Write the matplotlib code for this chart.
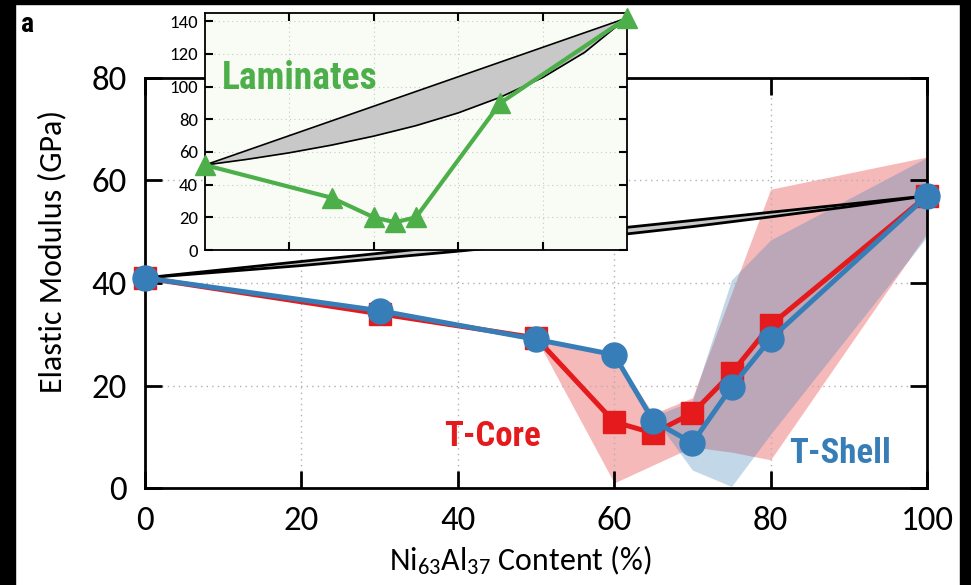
import matplotlib
matplotlib.use('Agg')
import matplotlib.pyplot as plt
from matplotlib.patches import Rectangle

plt.rcParams['font.family'] = ['Carlito', 'Open Sans', 'DejaVu Sans']
plt.rcParams['mathtext.default'] = 'regular'

# main panel data
content = [0, 30, 50, 60, 65, 70, 75, 80, 100]
core = [41, 34, 29.3, 12.9, 10.7, 14.6, 22.4, 31.8, 57]
shell = [41, 34.6, 29, 26, 13.1, 8.8, 19.7, 29.1, 57]

core_x = [50, 60, 65, 70, 75, 80, 100]
core_hi = [29.3, 26, 14.5, 17.6, 38, 58.3, 64.6]
core_lo = [29.3, 1.0, 4.5, 8.0, 7.0, 5.5, 49.7]

shell_x = [65, 70, 75, 80, 100]
shell_hi = [14, 17, 40.6, 48.4, 64.5]
shell_lo = [14, 3.5, 0.3, 10.5, 49]

# bounds band in main panel
bx = [0, 10, 20, 30, 40, 50, 60, 70, 80, 90, 100]
b_up = [41, 42.6, 44.2, 45.8, 47.4, 49, 50.6, 52.2, 53.8, 55.4, 57]
b_lo = [41, 42.2, 43.4, 44.8, 46.2, 47.7, 49.3, 51.0, 52.9, 54.9, 57]

# inset (laminates)
lam_x = [0, 30, 40, 45, 50, 70, 100]
lam_y = [52, 32, 20, 17, 20, 90, 142]
lam_up = [52, 61, 70, 79, 88, 97, 106, 115, 124, 133, 142]
lam_lo = [52, 55.5, 59.5, 64.2, 69.7, 76.1, 83.9, 93.5, 105.5, 121.0, 142]

red = '#e41a1c'
blue = '#377eb8'
green = '#4daf4a'
txt_font = ['Roboto Condensed', 'Fira Sans Condensed', 'PT Sans Narrow',
            'Open Sans Condensed', 'DejaVu Sans']

fig = plt.figure(figsize=(9.71, 5.85), dpi=100)
ax = fig.add_axes([0.1493, 0.1658, 0.8054, 0.7009])

ax.fill_between(core_x, core_lo, core_hi, color=red, alpha=0.3, lw=0, zorder=1)
ax.fill_between(shell_x, shell_lo, shell_hi, color=blue, alpha=0.3, lw=0, zorder=1)

ax.fill_between(bx, b_lo, b_up, color='#c8c8c8', lw=0, zorder=2)
ax.plot(bx, b_up, color='k', lw=2, zorder=2)
ax.plot(bx, b_lo, color='k', lw=2, zorder=2)

ax.plot(content, core, '-s', color=red, lw=3.6, ms=16, zorder=3, clip_on=False)
ax.plot(content, shell, '-o', color=blue, lw=3.6, ms=18, zorder=4, clip_on=False)

ax.set_xlim(0, 100)
ax.set_ylim(0, 80)
ax.set_xticks([0, 20, 40, 60, 80, 100])
ax.set_yticks([0, 20, 40, 60, 80])
ax.grid(True, ls=(0, (1, 3)), color='#b0b0b0', lw=1)
ax.tick_params(direction='in', length=12, width=2, labelsize=25, pad=13,
               top=True, right=True)
for s in ax.spines.values():
    s.set_linewidth(2)
ax.set_ylabel('Elastic Modulus (GPa)', fontsize=23)
ax.set_xlabel('Ni$_{63}$Al$_{37}$ Content (%)', fontsize=23)
ax.yaxis.set_label_coords(-0.101, 0.576)
ax.xaxis.set_label_coords(0.4795, -0.135)

ax.text(44.4, 10.1, 'T-Core', color=red, fontsize=25, fontweight='bold',
        family=txt_font, ha='center', va='center', zorder=5)
ax.text(88.9, 6.8, 'T-Shell', color=blue, fontsize=25, fontweight='bold',
        family=txt_font, ha='center', va='center', zorder=5)

# inset
ins = fig.add_axes([0.2111, 0.5726, 0.4346, 0.4051])
ins.set_facecolor('#f8fcf5')
ins.fill_between(bx, lam_lo, lam_up, color='#c8c8c8', lw=0)
ins.plot(bx, lam_up, color='k', lw=1.2)
ins.plot(bx, lam_lo, color='k', lw=1.2)
ins.plot(lam_x, lam_y, '-^', color=green, lw=3, ms=14, clip_on=False, zorder=5)
ins.set_xlim(0, 100)
ins.set_ylim(0, 145)
ins.set_xticks([20, 40, 60, 80])
ins.set_yticks(range(0, 141, 20))
ins.set_xticklabels([])
ins.grid(True, ls=(0, (1, 3)), color='#c8c8c8', lw=0.8)
ins.tick_params(direction='in', length=6, width=1.5, labelsize=13.5, pad=5,
                top=True, right=True)
for s in ins.spines.values():
    s.set_linewidth(1.3)
ins.text(4, 105, 'Laminates', color=green, fontsize=27, fontweight='bold',
         family=txt_font, ha='left', va='center')

# black frame and panel letter
fig.patches.append(Rectangle((0, 0), 15 / 971, 1, transform=fig.transFigure,
                             color='k', zorder=-1))
fig.patches.append(Rectangle((0, 1 - 4 / 585), 1, 4 / 585,
                             transform=fig.transFigure, color='k', zorder=-1))
fig.patches.append(Rectangle((960 / 971, 0), 11 / 971, 1,
                             transform=fig.transFigure, color='k', zorder=-1))
fig.text(21 / 971, 1 - 25 / 585, 'a', fontsize=20, fontweight='bold',
         family=txt_font, ha='left', va='center')

fig.savefig('out.png', dpi=100)
